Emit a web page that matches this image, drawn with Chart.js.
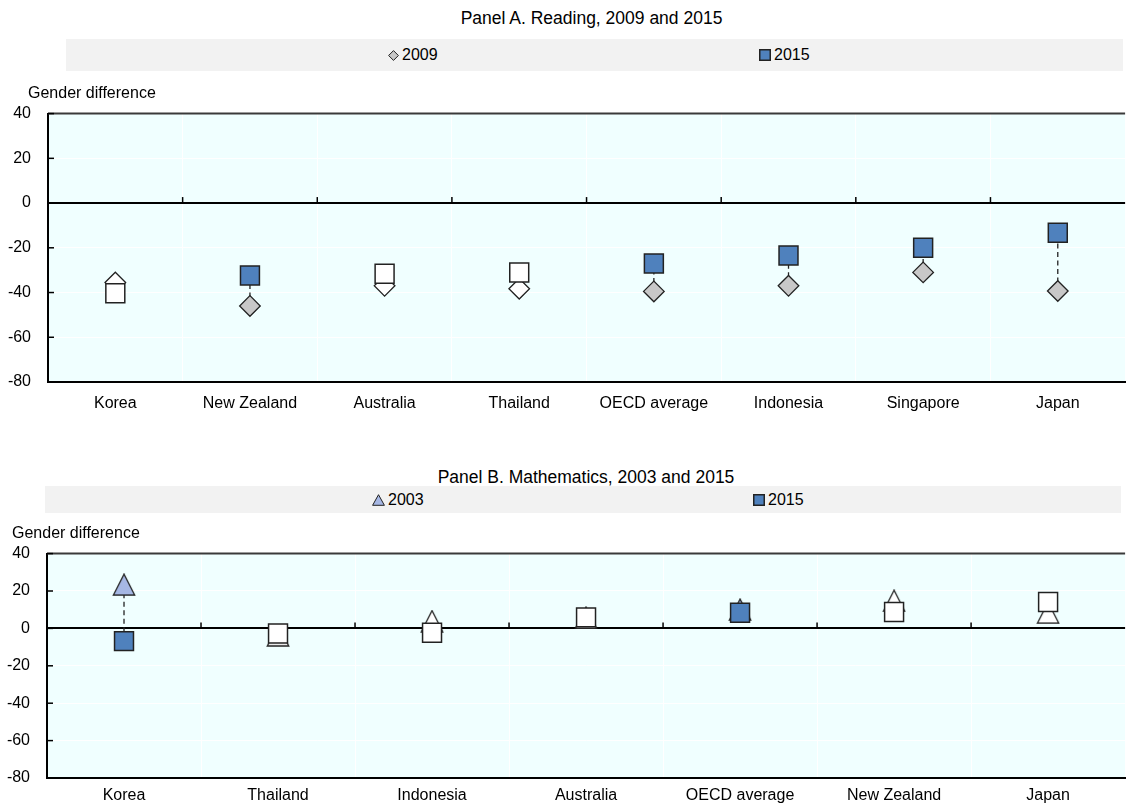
<!DOCTYPE html>
<html>
<head>
<meta charset="utf-8">
<script src="https://cdn.jsdelivr.net/npm/chart.js@4.4.0/dist/chart.umd.min.js"></script>
<style>
  html, body { margin: 0; padding: 0; background: #fff; }
  body { width: 1128px; height: 805px; overflow: hidden; position: relative; font-family: "Liberation Sans", Arial, sans-serif; color: #000; }
  .title { position: absolute; left: 0; text-align: center; font-size: 17.5px; line-height: 20px; white-space: nowrap; z-index: 2; }
  .band { position: absolute; background: #f2f2f2; }
  .item { position: absolute; font-size: 16px; line-height: 18px; display: flex; align-items: center; white-space: nowrap; }
  .item svg { margin-right: 3px; }
  .ylab { position: absolute; font-size: 16px; line-height: 18px; z-index: 2; white-space: nowrap; }
  canvas { position: absolute; left: 0; }
</style>
</head>
<body>
  <div class="title" style="top:8px; width:1183px;">Panel A. Reading, 2009 and 2015</div>
  <div class="band" style="left:66px; top:39px; width:1057px; height:32px;"></div>
  <div class="item" style="left:388px; top:46px;">
    <svg width="11" height="11"><polygon points="5.5,0.6 10.4,5.5 5.5,10.4 0.6,5.5" fill="#c8c8c8" stroke="#222" stroke-width="1"/></svg>2009
  </div>
  <div class="item" style="left:759px; top:46px;">
    <svg width="12" height="12"><rect x="0.75" y="0.75" width="10.5" height="10.5" fill="#4f81bd" stroke="#222" stroke-width="1.5"/></svg>2015
  </div>
  <div class="ylab" style="left:28px; top:84px;">Gender difference</div>
  <canvas id="chartA" width="1140" height="335" style="top:87px;"></canvas>

  <div class="title" style="top:467px; width:1172px;">Panel B. Mathematics, 2003 and 2015</div>
  <div class="band" style="left:45px; top:486px; width:1076px; height:27px;"></div>
  <div class="item" style="left:372px; top:491px;">
    <svg width="13" height="12"><polygon points="6.5,0.7 12.4,11.3 0.6,11.3" fill="#a6b7e4" stroke="#222" stroke-width="1"/></svg>2003
  </div>
  <div class="item" style="left:753px; top:491px;">
    <svg width="12" height="12"><rect x="0.75" y="0.75" width="10.5" height="10.5" fill="#4f81bd" stroke="#222" stroke-width="1.5"/></svg>2015
  </div>
  <div class="ylab" style="left:12px; top:524px;">Gender difference</div>
  <canvas id="chartB" width="1140" height="281" style="top:527px;"></canvas>

<script>
// Panel A: reading
const readingCountries = ['Korea', 'New Zealand', 'Australia', 'Thailand', 'OECD average', 'Indonesia', 'Singapore', 'Japan'];
const reading2009 = [-35.5, -46, -37, -38.3, -39.5, -37, -31, -39.3];
const reading2015 = [-40.3, -32.4, -31.6, -31, -27, -23.4, -20, -13.3];
// true = filled marker, false = white (not significant)
const reading2009Filled = [false, true, false, false, true, true, true, true];
const reading2015Filled = [false, true, false, false, true, true, true, true];

// Panel B: mathematics
const mathCountries = ['Korea', 'Thailand', 'Indonesia', 'Australia', 'OECD average', 'New Zealand', 'Japan'];
const math2003 = [23.4, -3.7, 3.9, 5.7, 10.1, 14.8, 8.4];
const math2015 = [-6.8, -2.7, -2.3, 5.9, 8.4, 8.8, 14.1];
const math2003Filled = [true, false, false, false, true, false, false];
const math2015Filled = [true, false, false, false, true, false, false];

const yTicks = [40, 20, 0, -20, -40, -60, -80];

const BLUE = '#4f81bd';
const GREY = '#c8c8c8';
const LILAC = '#a6b7e4';
const EDGE = '#222';

Chart.defaults.font.family = '"Liberation Sans", Arial, sans-serif';
Chart.defaults.font.size = 16;
Chart.defaults.color = '#000';

// triangle marker centred on its bounding box
function triMarker(fill) {
    const c = document.createElement('canvas');
    c.width = 24; c.height = 23;
    const g = c.getContext('2d');
    g.beginPath();
    g.moveTo(12, 1);
    g.lineTo(22.7, 22);
    g.lineTo(1.3, 22);
    g.closePath();
    g.fillStyle = fill;
    g.fill();
    g.strokeStyle = EDGE;
    g.lineWidth = 1.3;
    g.stroke();
    return c;
}
const triFilled = triMarker(LILAC);
const triWhite = triMarker('#ffffff');

// background, frame, inward ticks and dashed connectors
const framePlugin = {
    id: 'frame',
    beforeDraw(chart) {
        const a = chart.chartArea, ctx = chart.ctx;
        ctx.save();
        ctx.fillStyle = '#f0ffff';
        ctx.fillRect(a.left, a.top, a.right - a.left, a.bottom - a.top);
        ctx.restore();
    },
    beforeDatasetsDraw(chart) {
        const a = chart.chartArea, ctx = chart.ctx;
        const x = chart.scales.x, y = chart.scales.y;
        const n = chart.data.labels.length;
        ctx.save();
        // top border
        ctx.strokeStyle = '#3a3a3a';
        ctx.lineWidth = 2;
        ctx.beginPath();
        ctx.moveTo(a.left, a.top);
        ctx.lineTo(a.right, a.top);
        ctx.stroke();
        // y ticks pointing into the plot
        ctx.strokeStyle = '#000';
        ctx.lineWidth = 1.5;
        y.ticks.forEach(t => {
            const py = y.getPixelForValue(t.value);
            ctx.beginPath();
            ctx.moveTo(a.left, py);
            ctx.lineTo(a.left + 6, py);
            ctx.stroke();
        });
        // category ticks on the zero line
        const y0 = y.getPixelForValue(0);
        for (let i = 1; i < n; i++) {
            const bx = (x.getPixelForValue(i - 1) + x.getPixelForValue(i)) / 2;
            ctx.beginPath();
            ctx.moveTo(bx, y0);
            ctx.lineTo(bx, y0 - 6);
            ctx.stroke();
        }
        // dashed connectors between the two years
        const oldVals = chart.data.datasets[0].data;
        const newVals = chart.data.datasets[1].data;
        ctx.strokeStyle = '#222';
        ctx.lineWidth = 1.3;
        ctx.setLineDash([5, 3.5]);
        oldVals.forEach((v, i) => {
            const px = x.getPixelForValue(i);
            ctx.beginPath();
            ctx.moveTo(px, y.getPixelForValue(v));
            ctx.lineTo(px, y.getPixelForValue(newVals[i]));
            ctx.stroke();
        });
        ctx.restore();
    }
};

function makeConfig(labels, oldData, newData, oldStyle, oldFill, newFill, axisWidth, xHeight, labelPad) {
    const oldDs = {
        label: 'old',
        data: oldData,
        order: 2,
        showLine: false,
        borderColor: EDGE,
        pointBorderColor: EDGE,
        pointBorderWidth: 1.3
    };
    if (oldStyle === 'diamond') {
        oldDs.pointStyle = 'rectRot';
        oldDs.pointRadius = 10.3;
        oldDs.pointBackgroundColor = oldFill.map(f => f ? GREY : '#ffffff');
    } else {
        oldDs.pointStyle = oldFill.map(f => f ? triFilled : triWhite);
        oldDs.pointRadius = 12;
    }
    return {
        type: 'line',
        data: {
            labels: labels,
            datasets: [oldDs, {
                label: '2015',
                data: newData,
                order: 1,
                showLine: false,
                pointStyle: 'rect',
                pointRadius: 13.4,
                borderColor: EDGE,
                pointBorderColor: EDGE,
                pointBorderWidth: 1.5,
                pointBackgroundColor: newFill.map(f => f ? BLUE : '#ffffff')
            }]
        },
        options: {
            responsive: false,
            animation: false,
            events: [],
            layout: { padding: { top: 20, right: 2, left: 0, bottom: 0 } },
            plugins: { legend: { display: false }, tooltip: { enabled: false } },
            scales: {
                x: {
                    type: 'category',
                    offset: true,
                    grid: { offset: true, color: '#ffffff', lineWidth: 1, drawTicks: false },
                    border: { display: true, color: '#000', width: 2 },
                    ticks: { padding: labelPad, maxRotation: 0, autoSkip: false },
                    afterFit(scale) { scale.height = xHeight; }
                },
                y: {
                    min: -80,
                    max: 40,
                    afterBuildTicks(scale) { scale.ticks = yTicks.map(v => ({ value: v })); },
                    grid: {
                        drawTicks: false,
                        color: ctx => ctx.tick && ctx.tick.value === 0 ? '#000' : '#ffffff',
                        lineWidth: ctx => ctx.tick && ctx.tick.value === 0 ? 2 : 1
                    },
                    border: { display: true, color: '#000', width: 2 },
                    ticks: { padding: 17 },
                    afterFit(scale) { scale.width = axisWidth; }
                }
            }
        },
        plugins: [framePlugin]
    };
}

new Chart(document.getElementById('chartA'),
    makeConfig(readingCountries, reading2009, reading2015, 'diamond', reading2009Filled, reading2015Filled, 48, 40, 12));
new Chart(document.getElementById('chartB'),
    makeConfig(mathCountries, math2003, math2015, 'triangle', math2003Filled, math2015Filled, 47, 30, 8));
</script>
</body>
</html>
